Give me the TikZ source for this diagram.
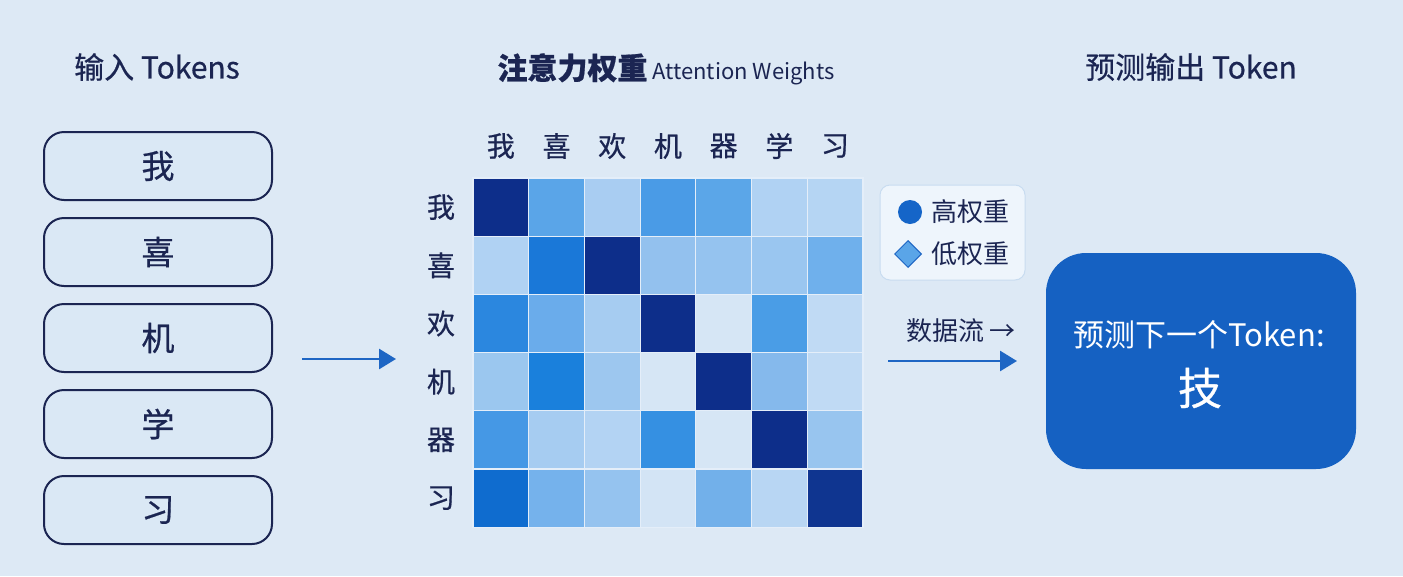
\documentclass[tikz,border=0pt]{standalone}
\usepackage{fontspec}
\setmainfont{Noto Sans CJK SC}
\newfontfamily\medfont{Noto Sans CJK SC}[FakeBold=0.6]
\usepackage{tikz}
\usetikzlibrary{arrows.meta,positioning,shapes.geometric}
\definecolor{bgblue}{HTML}{DDE9F5}
\definecolor{navy}{HTML}{1B2552}
\definecolor{tokfill}{HTML}{DAE8F5}
\definecolor{arrowblue}{HTML}{1E66C4}
\definecolor{outblue}{HTML}{1561C2}
\definecolor{legfill}{HTML}{EEF5FC}
\definecolor{legline}{HTML}{C8DCF0}
\definecolor{highdot}{HTML}{1565C8}
\definecolor{lowdot}{HTML}{5AA5E8}
\definecolor{gridline}{HTML}{E4EEF9}
\tikzset{
  title/.style={text=navy, font=\medfont\fontsize{30}{32}\selectfont},
  tokenbox/.style={draw=navy, line width=2pt, fill=tokfill, rounded corners=20pt,
    minimum width=228pt, minimum height=68pt, text=navy, font=\medfont\fontsize{33}{36}\selectfont},
  cell/.style={draw=gridline, line width=1.2pt, minimum width=55.7pt, minimum height=58.2pt, inner sep=0pt},
  axislabel/.style={text=navy, font=\medfont\fontsize{28}{30}\selectfont},
  legtext/.style={text=navy, font=\fontsize{26}{28}\selectfont, anchor=west},
  flow/.style={draw=arrowblue, line width=2.8pt, -{Triangle[length=17pt,width=20pt]}},
}
\begin{document}
\begin{tikzpicture}[x=1pt,y=-1pt]
\fill[bgblue] (0,0) rectangle (1403,576);
\useasboundingbox (0,0) rectangle (1403,576);

% titles
\node[title] (intitle) at (157,67) {输入 Tokens};
\node[title] (attitle) at (666,69) {{\bfseries 注意力权重}{\normalfont\fontsize{22}{24}\selectfont\ Attention Weights}};
\node[title] (outtitle) at (1191,67) {预测输出 Token};

% input tokens
\foreach \w [count=\i] in {我,喜,机,学,习}
  \node[tokenbox] (tok\i) at (158,{166+86*(\i-1)}) {\w};

% attention matrix
\foreach \row/\colors in {
  1/{0D2E8A,5AA5E8,A9CDF2,4A9BE6,5BA6E8,B0D2F3,B5D5F3},
  2/{B0D2F3,1A78D8,0D2E8A,93C1EE,95C3EF,9AC6F0,6FB0EC},
  3/{2B87DF,6AACEB,A6CCF1,0D2E8A,D6E6F5,4A9DE6,C0DAF4},
  4/{9BC7EF,1A80DC,9DC7EF,D6E6F5,0D2E8A,85B9EC,C0DAF4},
  5/{4598E5,A6CCF1,B3D3F3,3590E2,D6E6F5,0D2E8A,98C5EF},
  6/{0F6CCF,75B2EC,95C3EF,D3E4F5,72B0EA,B8D6F3,0F3590}}
  \foreach \h [count=\col] in \colors {
    \definecolor{cellc}{HTML}{\h}
    \node[cell, fill=cellc] (cell-\row-\col) at ({473+55.7*(\col-0.5)},{178+58.2*(\row-0.5)}) {};
  }
\foreach \w [count=\i] in {我,喜,欢,机,器,学,习}
  \node[axislabel] (col\i) at ({473+55.7*(\i-0.5)},146) {\w};
\foreach \w [count=\i] in {我,喜,欢,机,器,习}
  \node[axislabel] (row\i) at (441,{178+58.2*(\i-0.5)}) {\w};

% legend
\node[draw=legline, line width=1pt, fill=legfill, rounded corners=10pt,
  minimum width=145pt, minimum height=95pt] (legend) at (952.5,232.5) {};
\node[circle, fill=highdot, minimum size=24pt, inner sep=0pt] (highmark) at (910,212) {};
\node[diamond, fill=lowdot, draw=arrowblue, line width=1pt, minimum size=27pt, inner sep=0pt] (lowmark) at (908,254) {};
\node[legtext] (highlabel) at (928,212) {高权重};
\node[legtext] (lowlabel) at (928,254) {低权重};

% output
\node[fill=outblue, rounded corners=40pt, minimum width=310pt, minimum height=216pt] (outbox) at (1201,361) {};
\node[text=white, font=\fontsize{31}{33}\selectfont] (outtext) at (1199,335) {预测下一个Token:};
\node[text=white, font=\medfont\fontsize{44}{46}\selectfont] (nextchar) at (1200,388) {技};

% data flow
\coordinate (in-a) at (302,359);
\coordinate (in-b) at (396,359);
\coordinate (out-a) at (888,361);
\coordinate (out-b) at (1017,361);
\draw[flow] (in-a) -- (in-b);
\node[text=navy, font=\fontsize{26}{28}\selectfont] (flowlabel) at (961,331) {数据流 →};
\draw[flow] (out-a) -- (out-b);
\end{tikzpicture}
\end{document}
